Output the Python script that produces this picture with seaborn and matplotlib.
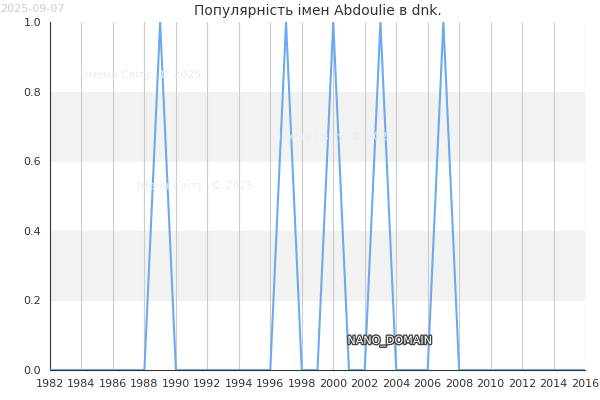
import matplotlib
matplotlib.use("Agg")
import matplotlib.pyplot as plt
import matplotlib.patheffects as pe
import seaborn as sns
import pandas as pd

years = list(range(1982, 2017))
peak_years = [1989, 1997, 2000, 2003, 2007]
values = [1.0 if y in peak_years else 0.0 for y in years]
df = pd.DataFrame({"year": years, "value": values})

sns.set_style("white")
plt.rcParams['font.family'] = ['DejaVu Sans']

fig = plt.figure(figsize=(6, 4), dpi=100)
ax = fig.add_axes([50 / 600, 30 / 400, 535 / 600, 348 / 400])

# alternating bands
for lo in [0.2, 0.6]:
    ax.axhspan(lo, lo + 0.2, color="#f2f2f2", zorder=0)

sns.lineplot(data=df, x="year", y="value", ax=ax, color="#6aaaf0", linewidth=1.5, zorder=3)

ax.set_xlim(1982, 2016)
ax.set_ylim(0, 1)
ax.set_xticks(range(1982, 2017, 2))
ax.set_yticks([0, 0.2, 0.4, 0.6, 0.8, 1.0])
ax.set_yticklabels(["0.0", "0.2", "0.4", "0.6", "0.8", "1.0"])
ax.tick_params(labelsize=8, length=3, colors="#333333")
ax.grid(axis="x", color="#cccccc", linewidth=0.8, zorder=1)
ax.set_axisbelow(True)
for s in ["top", "right"]:
    ax.spines[s].set_visible(False)
for s in ["left", "bottom"]:
    ax.spines[s].set_color("#333333")
ax.set_xlabel("")
ax.set_ylabel("")
ax.set_title("Популярність імен Abdoulie в dnk.", fontsize=10, color="#333333", pad=5)

fig.text(0.0, 0.99, "2025-09-07", fontsize=8, color="#cccccc", va="top")
wm = "#e6eefa"
ax.text(1984.2, 0.84, "Імена Світу  © 2025", fontsize=8, color=wm)
ax.text(1996.5, 0.66, "Імена Світу  © 2025", fontsize=8, color=wm)
ax.text(1987.5, 0.52, "Імена Світу  © 2025", fontsize=8, color=wm)
ax.text(2000.9, 0.075, "NANO_DOMAIN", fontsize=8, color="white", zorder=5,
        path_effects=[pe.withStroke(linewidth=2, foreground="#444444")])

fig.savefig("out.png", dpi=100)
